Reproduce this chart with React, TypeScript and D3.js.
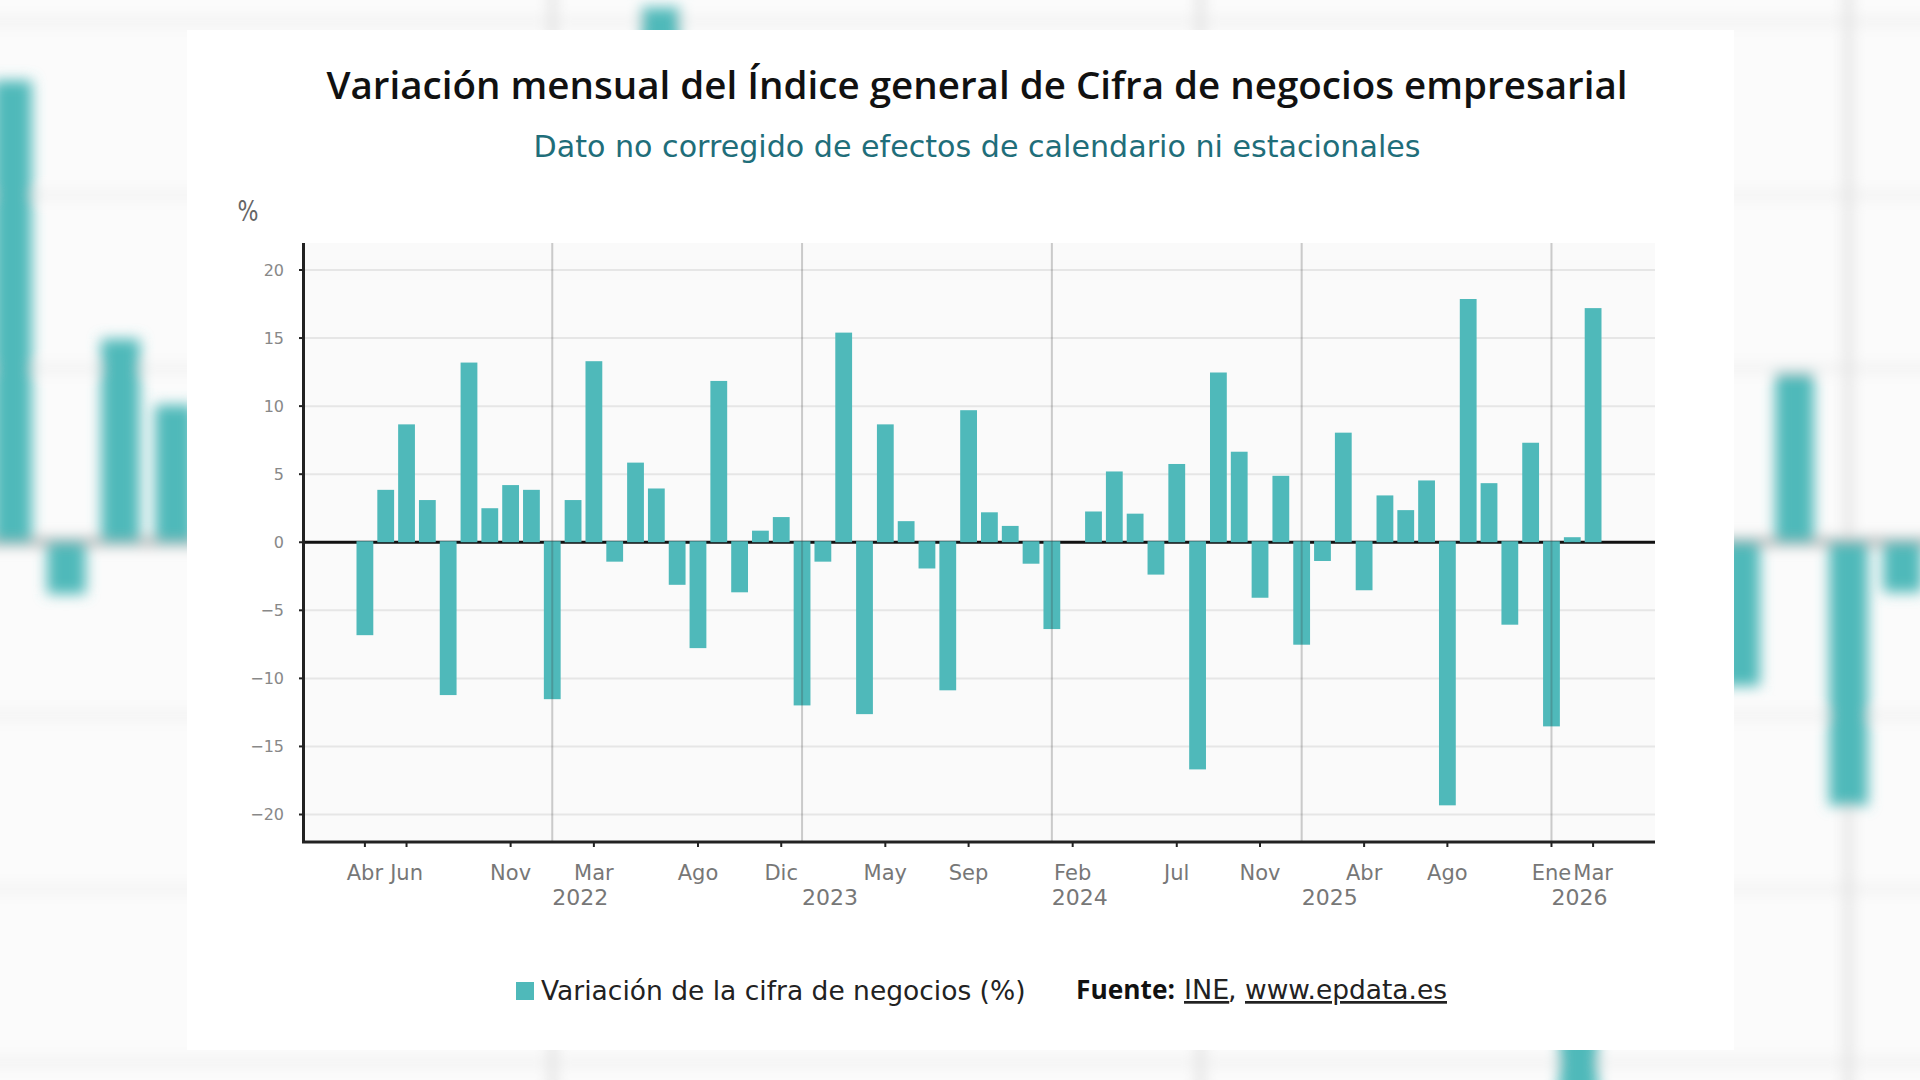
import React from "react";
import * as d3 from "d3";

const TITLE = "Variación mensual del Índice general de Cifra de negocios empresarial";
const SUBTITLE = "Dato no corregido de efectos de calendario ni estacionales";
const SERIES = "Variación de la cifra de negocios (%)";

const months = [
  "2021-04","2021-05","2021-06","2021-07","2021-08","2021-09","2021-10","2021-11","2021-12",
  "2022-01","2022-02","2022-03","2022-04","2022-05","2022-06","2022-07","2022-08","2022-09","2022-10","2022-11","2022-12",
  "2023-01","2023-02","2023-03","2023-04","2023-05","2023-06","2023-07","2023-08","2023-09","2023-10","2023-11","2023-12",
  "2024-01","2024-02","2024-03","2024-04","2024-05","2024-06","2024-07","2024-08","2024-09","2024-10","2024-11","2024-12",
  "2025-01","2025-02","2025-03","2025-04","2025-05","2025-06","2025-07","2025-08","2025-09","2025-10","2025-11","2025-12",
  "2026-01","2026-02","2026-03",
];
const values = [
  -6.9,3.85,8.66,3.1,-11.3,13.2,2.5,4.2,3.85,
  -11.6,3.1,13.3,-1.5,5.85,3.95,-3.2,-7.85,11.85,-3.75,0.85,1.85,
  -12.06,-1.5,15.4,-12.7,8.66,1.55,-2.0,-10.95,9.7,2.2,1.2,-1.65,
  -6.45,0,2.26,5.2,2.1,-2.45,5.75,-16.76,12.47,6.65,-4.15,4.88,
  -7.6,-1.45,8.05,-3.6,3.44,2.36,4.54,-19.4,17.87,4.34,-6.13,7.31,
  -13.6,0.37,17.2,
];
const tickMonths = ["2021-04","2021-06","2021-11","2022-03","2022-08","2022-12","2023-05","2023-09","2024-02","2024-07","2024-11","2025-04","2025-08","2026-01","2026-03"];
const tickNames = ["Abr","Jun","Nov","Mar","Ago","Dic","May","Sep","Feb","Jul","Nov","Abr","Ago","Ene","Mar"];
const yearMonths = ["2022-01","2023-01","2024-01","2025-01","2026-01"];
const yearNames = ["2022","2023","2024","2025","2026"];
const yTicks = [-20,-15,-10,-5,0,5,10,15,20];

const TEAL = "#4fb9ba";
const FONT = "'DejaVu Sans', sans-serif";

export default function App() {
  const x = d3.scaleBand<string>().domain(months).range([303, 1655]).paddingInner(0.193).paddingOuter(2.57);
  const y = d3.scaleLinear().domain([-20, 20]).range([814.5, 270]);
  const bgX = d3.scaleBand<string>().domain(months).range([-601, 2624]).paddingInner(0.28).paddingOuter(0);
  const bgY = d3.scaleLinear().domain([0, 10]).range([542, 195]);
  const cx = (m: string) => (x(m) as number) + x.bandwidth() / 2;
  const bgCx = (m: string) => (bgX(m) as number) + bgX.bandwidth() / 2;
  return (
    <svg width={1920} height={1080} viewBox="0 0 1920 1080" style={{ position: "absolute", left: 0, top: 0, fontFamily: FONT }}>
      <defs>
        <filter id="bgblur" x="-10%" y="-10%" width="120%" height="120%" filterUnits="objectBoundingBox">
          <feGaussianBlur stdDeviation="7" />
        </filter>
      </defs>
      <rect width={1920} height={1080} fill="#fbfbfb" />
      <g filter="url(#bgblur)">
        {yTicks.map((t) => <line key={t} x1={-50} x2={1970} y1={bgY(t)} y2={bgY(t)} stroke="#efefef" strokeWidth={7} />)}
        {yearMonths.map((m) => <line key={m} x1={bgCx(m)} x2={bgCx(m)} y1={-50} y2={1130} stroke="#dedede" strokeWidth={7} />)}
        <line x1={-50} x2={1970} y1={bgY(0)} y2={bgY(0)} stroke="#a4a4a4" strokeWidth={7} />
        {months.map((m, i) => (
          <rect key={m} x={bgX(m)} width={bgX.bandwidth()} y={Math.min(bgY(values[i]), bgY(0))} height={Math.abs(bgY(values[i]) - bgY(0))} fill={TEAL} />
        ))}
      </g>
      <rect x={187} y={30} width={1547} height={1020} fill="#ffffff" />

      <text x={977} y={99} textAnchor="middle" fontSize={37} fontWeight={600} fill="#111" fontFamily="'Open Sans', sans-serif" textLength={1301} lengthAdjust="spacingAndGlyphs">{TITLE}</text>
      <text x={977} y={157} textAnchor="middle" fontSize={30} fill="#1f6e7a" textLength={887} lengthAdjust="spacingAndGlyphs">{SUBTITLE}</text>
      <text x={248} y={221} textAnchor="middle" fontSize={29} fill="#666" textLength={21} lengthAdjust="spacingAndGlyphs">%</text>

      <rect x={305} y={243} width={1350} height={597} fill="#fafafa" />
      {yTicks.map((t) => (
        <g key={t}>
          <line x1={305} x2={1655} y1={y(t)} y2={y(t)} stroke="#e6e6e6" strokeWidth={2} />
          <line x1={299} x2={304} y1={y(t)} y2={y(t)} stroke="#222" strokeWidth={2} />
          <text x={284} y={y(t)} dy="0.36em" textAnchor="end" fontSize={16} fill="#888">{t < 0 ? `−${-t}` : t}</text>
        </g>
      ))}
      <line x1={303} x2={1655} y1={y(0)} y2={y(0)} stroke="#111" strokeWidth={3} />
      {months.map((m, i) => (
        <rect key={m} x={x(m)} width={x.bandwidth()} y={Math.min(y(values[i]), y(0) - 1)} height={Math.abs(y(values[i]) - y(0))} fill={TEAL} />
      ))}
      {yearMonths.map((m) => (
        <line key={m} x1={cx(m)} x2={cx(m)} y1={243} y2={841} stroke="rgba(60,60,60,0.25)" strokeWidth={2} />
      ))}
      <line x1={303.5} x2={303.5} y1={243} y2={843} stroke="#222" strokeWidth={3} />
      <line x1={302} x2={1655} y1={842} y2={842} stroke="#222" strokeWidth={3} />
      {tickMonths.map((m, i) => (
        <g key={m}>
          <line x1={cx(m)} x2={cx(m)} y1={842} y2={847} stroke="#222" strokeWidth={2} />
          <text x={cx(m)} y={880} textAnchor="middle" fontSize={21} fill="#777">{tickNames[i]}</text>
        </g>
      ))}
      {yearMonths.map((m, i) => (
        <text key={m} x={cx(m)} y={905} textAnchor="start" fontSize={22} fill="#777">{yearNames[i]}</text>
      ))}

      <rect x={516} y={982} width={18} height={18} fill={TEAL} />
      <text x={541} y={1000} fontSize={26.5} fill="#222">{SERIES}</text>
      <text x={1076} y={999} fontSize={27} fontWeight={700} fill="#111" fontFamily="'Open Sans', sans-serif" textLength={99} lengthAdjust="spacingAndGlyphs">Fuente:</text>
      <text x={1184} y={999} fontSize={27} fill="#222" textDecoration="underline">INE</text>
      <text x={1228} y={999} fontSize={27} fill="#222">,</text>
      <text x={1245} y={999} fontSize={27} fill="#222" textDecoration="underline" textLength={202} lengthAdjust="spacingAndGlyphs">www.epdata.es</text>
    </svg>
  );
}
